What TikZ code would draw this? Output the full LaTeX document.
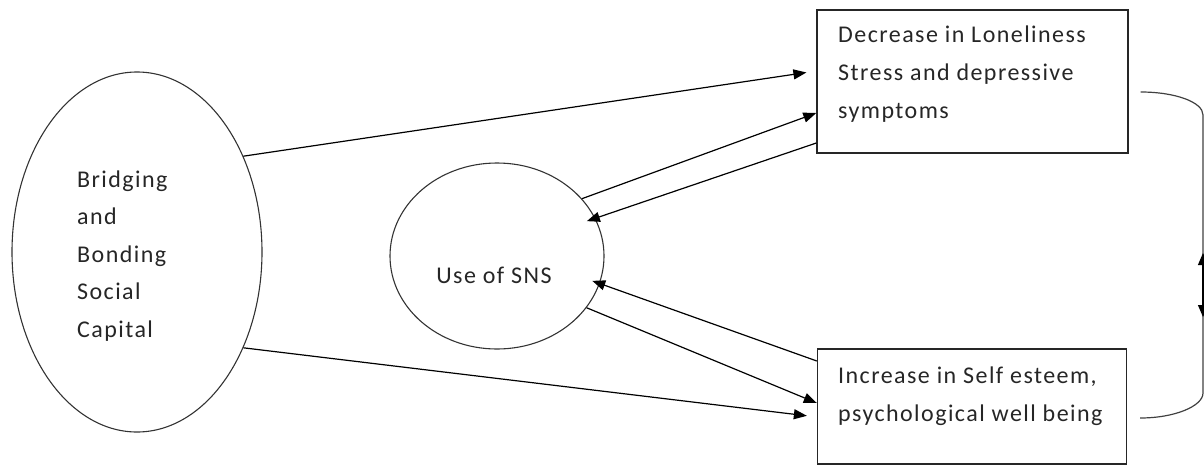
\documentclass[tikz,border=0pt]{standalone}
\usepackage{fontspec}
\setmainfont{Carlito}[LetterSpace=6]
\usetikzlibrary{shapes.geometric,arrows.meta}
\begin{document}
\begin{tikzpicture}[x=1pt,y=-1pt,
  every node/.style={inner sep=0pt},
  shapeline/.style={draw=black!80,line width=1.1pt},
  boxline/.style={draw=black!85,line width=1.4pt},
  conn/.style={line width=1.2pt,-{Triangle[length=13pt,width=10pt]}},
  lbl/.style={font=\fontsize{24}{38}\selectfont,align=left,anchor=base west,text=black!85}]
\useasboundingbox (0,0) rectangle (1204,466);
% shapes
\node[ellipse,shapeline,minimum width=250pt,minimum height=360pt] (bb) at (137,252) {};
\node[ellipse,shapeline,minimum width=214pt,minimum height=186pt] (sns) at (497,256) {};
\node[rectangle,boxline,minimum width=311pt,minimum height=143pt] (top) at (972.5,81.5) {};
\node[rectangle,boxline,minimum width=309pt,minimum height=115pt] (bot) at (972,406.5) {};
% texts (anchor = baseline of last line)
\node[lbl,font=\fontsize{24}{37.5}\selectfont] (bbt) at (77,337) {Bridging\\and\\Bonding\\Social\\Capital};
\node[lbl,anchor=base] (snst) at (494,283) {Use of SNS};
\node[lbl] (topt) at (838,118) {Decrease in Loneliness\\Stress and depressive\\symptoms};
\node[lbl] (bott) at (838,421) {Increase in Self esteem,\\psychological well being};
% connectors
\draw[conn,shorten >=10pt] (bb.42) -- ([yshift=10.5pt]top.west);
\draw[conn] (sns.34) -- ([yshift=-31.5pt]top.west);
\draw[conn,shorten >=-9pt] ([yshift=-61.5pt]top.west) -- (sns.21);
\draw[conn,shorten >=-8pt] ([yshift=45.5pt]bot.west) -- (sns.-15);
\draw[conn] (sns.-30) -- ([yshift=3.5pt]bot.west);
\draw[conn,shorten >=10pt] (bb.-42) -- ([yshift=-10.5pt]bot.west);
% bracket
\coordinate (bu) at (1203,253);
\coordinate (bd) at (1203,317);
\draw[line width=1.2pt,draw=black!75] ([shift={(12pt,-10.5pt)}]top.east) .. controls (1175,92) and (1203,102) .. (1203,115)
  -- (1203,393) .. controls (1203,406) and (1175,418) .. ([shift={(13pt,-11.5pt)}]bot.east);
\draw[line width=1.2pt,{Triangle[length=12pt,width=10pt]}-{Triangle[length=12pt,width=10pt]}] (bu) -- (bd);
\end{tikzpicture}
\end{document}
